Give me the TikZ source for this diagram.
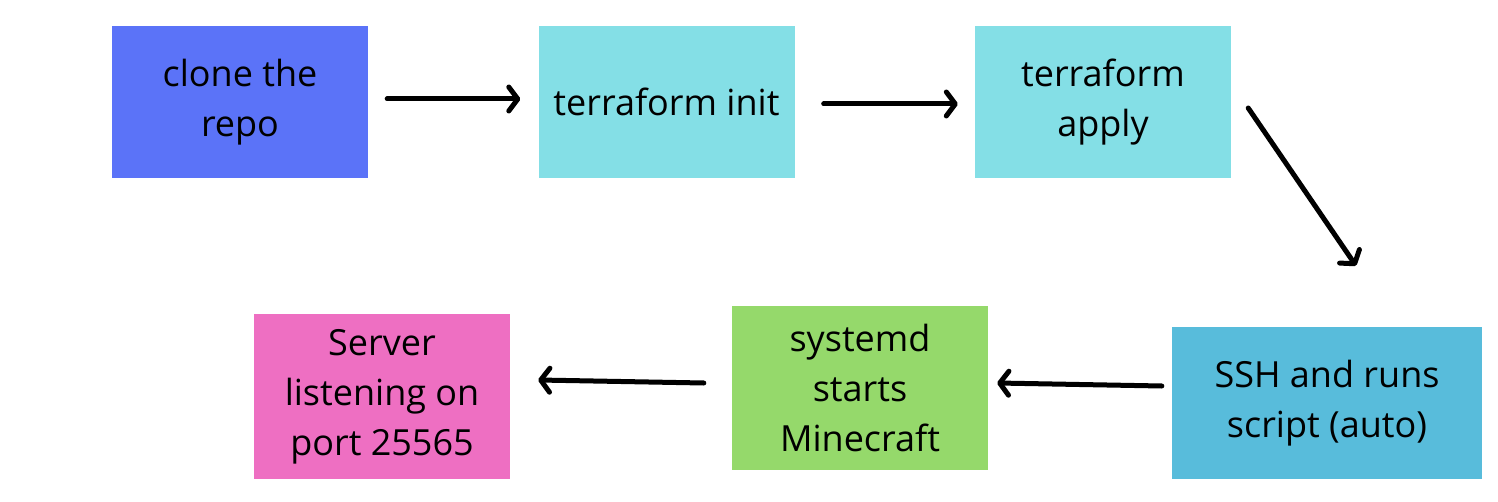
\documentclass[tikz,border=0pt]{standalone}
\usepackage{fontspec}
\setmainfont{Open Sans}
\usepackage{tikz}
\usetikzlibrary{arrows.meta}

\definecolor{cloneblue}{HTML}{5B73F8}
\definecolor{tfcyan}{HTML}{84DFE6}
\definecolor{sshblue}{HTML}{58BCDB}
\definecolor{sysgreen}{HTML}{95D96B}
\definecolor{srvpink}{HTML}{EE6FC2}

\tikzset{
  box/.style={inner sep=0pt, minimum width=256pt, minimum height=152pt,
    align=center, font=\fontsize{36}{50}\selectfont},
  flow/.style={line width=5pt, line cap=round,
    -{Straight Barb[length=9pt,width=24pt,round]}}
}

\begin{document}
\begin{tikzpicture}[x=1pt,y=-1pt]
	\useasboundingbox (0,0) rectangle (1498,502);
	\node[box, fill=cloneblue] (clone) at (240,102) {clone the\\repo};
	\node[box, fill=tfcyan] (init) at (666.5,102) {terraform init};
	\node[box, fill=tfcyan] (apply) at (1103,102) {terraform\\apply};
	\node[box, fill=sshblue, minimum width=310pt] (ssh) at (1327,403) {SSH and runs\\script (auto)};
	\node[box, fill=sysgreen, minimum height=164pt] (sysd) at (860,388) {systemd\\starts\\Minecraft};
	\node[box, fill=srvpink, minimum height=165pt] (srv) at (382,396.5) {Server\\listening on\\port 25565};
	\draw[flow] ([xshift=19pt,yshift=3pt]clone.east) -- ([xshift=-18pt,yshift=3pt]init.west);
	\draw[flow] ([xshift=29pt,yshift=-2pt]init.east) -- ([xshift=-17pt,yshift=-2pt]apply.west);
	\draw[flow] ([xshift=17pt,yshift=-6pt]apply.east) -- ([xshift=29pt,yshift=61pt]ssh.north);
	\draw[flow] ([xshift=-10pt,yshift=17pt]ssh.west) -- ([xshift=9pt,yshift=5pt]sysd.east);
	\draw[flow] ([xshift=-28pt,yshift=5pt]sysd.west) -- ([xshift=28pt,yshift=16.5pt]srv.east);
\end{tikzpicture}
\end{document}
